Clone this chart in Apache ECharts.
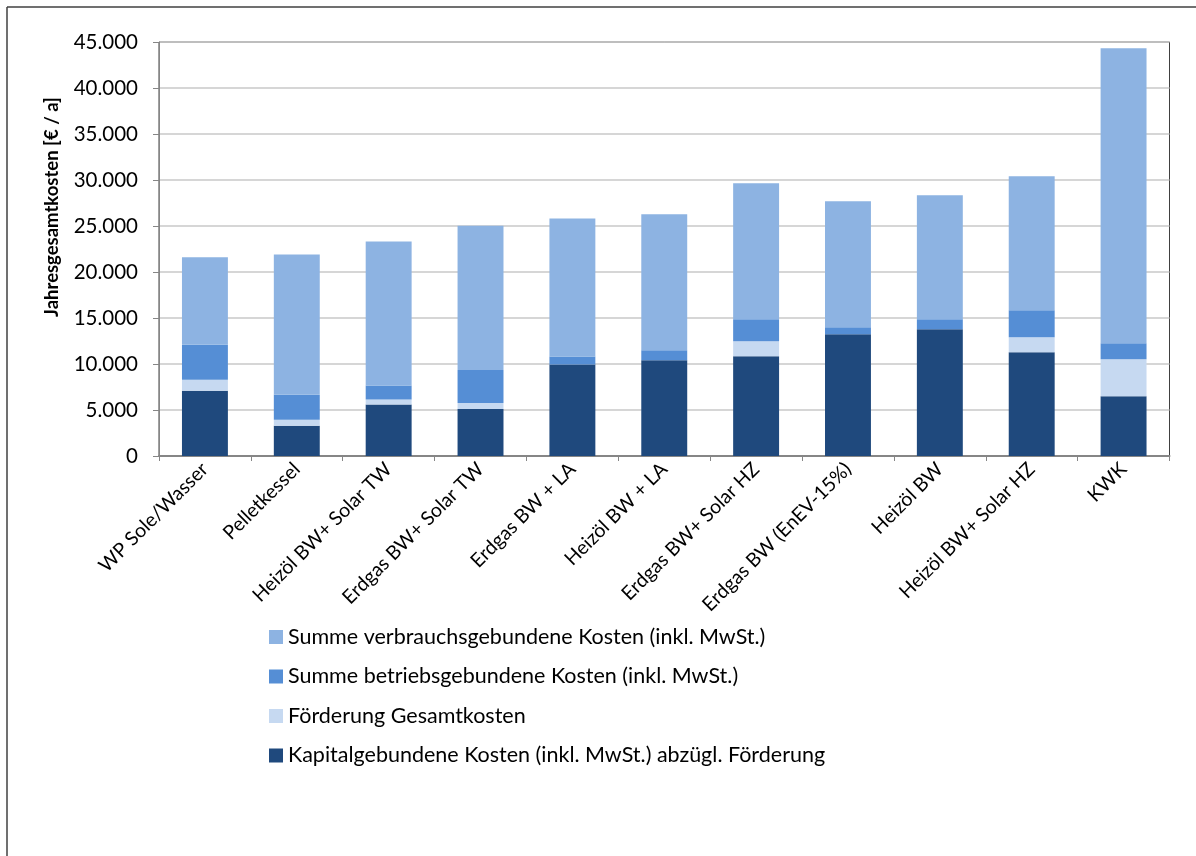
<!DOCTYPE html>
<html>
<head>
<meta charset="utf-8">
<script src="https://cdn.jsdelivr.net/npm/echarts@6/dist/echarts.min.js"></script>
<style>
html,body{margin:0;padding:0;background:#fff;}
#chart{width:1196px;height:856px;}
</style>
</head>
<body>
<div id="chart"></div>
<script>
const categories = ['WP Sole/Wasser','Pelletkessel','Heizöl BW+ Solar TW','Erdgas BW+ Solar TW','Erdgas BW + LA','Heizöl BW + LA','Erdgas BW+ Solar HZ','Erdgas BW (EnEV-15%)','Heizöl BW','Heizöl BW+ Solar HZ','KWK'];
const kapital    = [7100, 3300, 5600, 5100, 9950, 10400, 10850, 13230, 13770, 11270, 6490];
const foerderung = [1200, 650, 540, 650, 0, 0, 1630, 0, 0, 1630, 4020];
const betrieb    = [3800, 2700, 1520, 3590, 870, 1090, 2390, 760, 1090, 2935, 1740];
const verbrauch  = [9500, 15250, 15650, 15700, 15000, 14780, 14780, 13700, 13480, 14565, 32065];
const seriesNames = [
  'Kapitalgebundene Kosten (inkl. MwSt.) abzügl. Förderung',
  'Förderung Gesamtkosten',
  'Summe betriebsgebundene Kosten (inkl. MwSt.)',
  'Summe verbrauchsgebundene Kosten (inkl. MwSt.)'
];
const yAxisTitle = 'Jahresgesamtkosten [€ / a]';
const yMin = 0, yMax = 45000, yStep = 5000;

const FONT = 'Lato';
const colors = ['#1f497d', '#c6d9f1', '#558ed5', '#8db3e2'];
const dataSets = [kapital, foerderung, betrieb, verbrauch];

const chart = echarts.init(document.getElementById('chart'), null, {renderer: 'canvas'});
chart.setOption({
  animation: false,
  backgroundColor: '#ffffff',
  textStyle: {fontFamily: FONT},
  grid: {
    left: 159, right: 26.5, top: 42, bottom: 400,
    show: true, borderColor: '#404040', borderWidth: 1, backgroundColor: 'transparent'
  },
  legend: {
    orient: 'vertical',
    left: 264, top: 621,
    itemWidth: 14, itemHeight: 14,
    itemGap: 17.5,
    icon: 'rect',
    data: [seriesNames[3], seriesNames[2], seriesNames[1], seriesNames[0]],
    textStyle: {fontFamily: FONT, fontSize: 21.5, color: '#000', lineHeight: 22}
  },
  xAxis: {
    type: 'category',
    data: categories,
    axisLine: {show: true, lineStyle: {color: '#868686', width: 2}},
    axisTick: {show: true, length: 5, lineStyle: {color: '#868686'}},
    axisLabel: {rotate: 45, fontSize: 19.5, color: '#000', margin: 10, interval: 0, fontFamily: FONT},
    splitLine: {show: false}
  },
  yAxis: {
    type: 'value',
    min: yMin, max: yMax, interval: yStep,
    axisLine: {show: true, lineStyle: {color: '#868686', width: 1}},
    axisTick: {show: true, length: 6, lineStyle: {color: '#868686'}},
    axisLabel: {
      fontSize: 20.5, color: '#000', margin: 21, fontFamily: FONT,
      formatter: v => v.toString().replace(/\B(?=(\d{3})+(?!\d))/g, '.')
    },
    splitLine: {show: true, lineStyle: {color: '#c8c8c8', width: 1.5}}
  },
  series: dataSets.map((d, i) => ({
    name: seriesNames[i],
    type: 'bar',
    stack: 'total',
    data: d,
    barWidth: '50%',
    itemStyle: {color: colors[i]},
    emphasis: {disabled: true}
  })),
  graphic: [
    {type: 'line', shape: {x1: 7, y1: 7, x2: 7, y2: 856}, style: {stroke: '#404040', lineWidth: 1.5}},
    {type: 'line', shape: {x1: 7, y1: 7, x2: 1196, y2: 7}, style: {stroke: '#404040', lineWidth: 1.5}},
    {
      type: 'text',
      x: 52, y: 207,
      rotation: Math.PI / 2,
      style: {text: yAxisTitle, fontFamily: FONT, fontSize: 18.5, fontWeight: 'bold', fill: '#000', align: 'center', verticalAlign: 'middle'}
    }
  ]
});
</script>
</body>
</html>
